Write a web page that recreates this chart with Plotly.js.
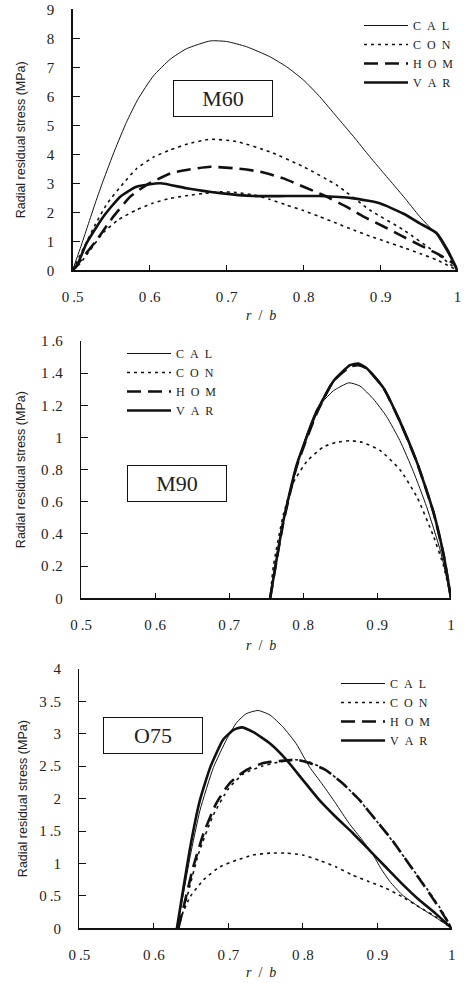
<!DOCTYPE html>
<html>
<head>
<meta charset="utf-8">
<script src="https://cdn.plot.ly/plotly-3.0.1.min.js"></script>
<style>html,body{margin:0;padding:0;background:#fff;}#chart{width:464px;height:983px;}</style>
</head>
<body>
<div id="chart"></div>
<script>
// ---------- shared ----------
const seriesNames = ['C\u2002A\u2002L', 'C\u2002O\u2002N', 'H\u2002O\u2002M', 'V\u2002A\u2002R'];
const panelLabels = ['M60', 'M90', 'O75'];
const xTitleText = '<i>r</i>\u00a0\u00a0/\u00a0\u00a0<i>b</i>';
const yTitleText = 'Radial residual stress (MPa)';
const xTickVals = [0.5, 0.6, 0.7, 0.8, 0.9, 1];
const xTickText = ['0\u2009.5', '0\u2009.6', '0\u2009.7', '0\u2009.8', '0\u2009.9', '1'];
const y1TickVals = [0, 1, 2, 3, 4, 5, 6, 7, 8, 9];
const y1TickText = ['0', '1', '2', '3', '4', '5', '6', '7', '8', '9'];
const y2TickVals = [0, 0.2, 0.4, 0.6, 0.8, 1, 1.2, 1.4, 1.6];
const y2TickText = ['0', '0\u2009.2', '0\u2009.4', '0\u2009.6', '0\u2009.8', '1', '1\u2009.2', '1\u2009.4', '1\u2009.6'];
const y3TickVals = [0, 0.5, 1, 1.5, 2, 2.5, 3, 3.5, 4];
const y3TickText = ['0', '0\u2009.5', '1', '1\u2009.5', '2', '2\u2009.5', '3', '3\u2009.5', '4'];

// ---------- M60 ----------
const m60CalX = [0.5, 0.51, 0.52, 0.53, 0.54, 0.555, 0.570, 0.585, 0.605, 0.627, 0.648, 0.679, 0.700, 0.726, 0.756, 0.778, 0.800, 0.821, 0.843, 0.865, 0.886, 0.908, 0.930, 0.951, 0.973, 0.986, 1.0];
const m60CalY = [0, 0.75, 1.55, 2.35, 3.1, 4.15, 5.1, 5.9, 6.7, 7.28, 7.64, 7.91, 7.89, 7.71, 7.37, 7.02, 6.56, 5.99, 5.30, 4.61, 3.92, 3.23, 2.54, 1.85, 1.22, 0.65, 0];
const m60ConUpX = [0.5, 0.515, 0.53, 0.545, 0.566, 0.583, 0.605, 0.627, 0.650, 0.679, 0.713, 0.756, 0.800, 0.843, 0.886, 0.930, 0.973, 1.0];
const m60ConUpY = [0, 0.8, 1.6, 2.3, 3.0, 3.5, 3.9, 4.15, 4.36, 4.52, 4.44, 4.09, 3.57, 2.94, 2.08, 1.39, 0.58, 0];
const m60ConLoX = [0.5, 0.51, 0.523, 0.540, 0.560, 0.583, 0.605, 0.627, 0.650, 0.670, 0.692, 0.713, 0.735, 0.756, 0.778, 0.800, 0.821, 0.843, 0.865, 0.886, 0.908, 0.930, 0.951, 0.973, 1.0];
const m60ConLoY = [0, 0.24, 0.70, 1.30, 1.75, 2.08, 2.32, 2.48, 2.58, 2.65, 2.71, 2.68, 2.60, 2.45, 2.25, 2.06, 1.85, 1.62, 1.39, 1.18, 0.98, 0.78, 0.58, 0.36, 0];
const m60HomX = [0.5, 0.514, 0.531, 0.553, 0.575, 0.596, 0.627, 0.648, 0.679, 0.713, 0.744, 0.774, 0.800, 0.826, 0.856, 0.878, 0.904, 0.925, 0.951, 0.973, 0.995, 1.0];
const m60HomY = [0, 0.46, 1.03, 1.85, 2.54, 2.94, 3.34, 3.46, 3.57, 3.51, 3.40, 3.17, 2.88, 2.59, 2.19, 1.85, 1.51, 1.22, 0.87, 0.58, 0.23, 0];
const m60VarX = [0.5, 0.505, 0.518, 0.540, 0.562, 0.583, 0.614, 0.648, 0.692, 0.735, 0.778, 0.821, 0.865, 0.899, 0.930, 0.951, 0.973, 0.987, 1.0];
const m60VarY = [0, 0.12, 0.92, 1.85, 2.54, 2.88, 3.00, 2.83, 2.66, 2.56, 2.56, 2.56, 2.48, 2.31, 1.95, 1.62, 1.28, 0.70, 0];

// ---------- M90 ----------
const m90CalX = [0.7556, 0.7734, 0.7915, 0.805, 0.819, 0.841, 0.862, 0.877, 0.895, 0.913, 0.931, 0.949, 0.967, 0.986, 1.0];
const m90CalY = [0, 0.47, 0.82, 1.02, 1.18, 1.29, 1.34, 1.32, 1.24, 1.13, 0.98, 0.79, 0.57, 0.29, 0];
const m90ConX = [0.7556, 0.760, 0.7734, 0.787, 0.805, 0.827, 0.845, 0.8635, 0.880, 0.904, 0.931, 0.954, 0.976, 0.990, 1.0];
const m90ConY = [0, 0.20, 0.52, 0.72, 0.85, 0.94, 0.97, 0.98, 0.97, 0.92, 0.80, 0.63, 0.39, 0.20, 0];
const m90HomX = [0.7556, 0.7734, 0.7915, 0.8185, 0.841, 0.8635, 0.875, 0.886, 0.9085, 0.931, 0.9536, 0.976, 0.990, 1.0];
const m90HomY = [0, 0.47, 0.82, 1.15, 1.35, 1.44, 1.45, 1.43, 1.31, 1.10, 0.85, 0.54, 0.27, 0];
const m90VarX = [0.7556, 0.7734, 0.7915, 0.8185, 0.841, 0.8635, 0.875, 0.886, 0.9085, 0.931, 0.9536, 0.976, 0.990, 1.0];
const m90VarY = [0, 0.48, 0.83, 1.16, 1.35, 1.45, 1.46, 1.43, 1.31, 1.10, 0.85, 0.54, 0.27, 0];

// ---------- O75 ----------
const o75CalX = [0.631, 0.640, 0.649, 0.662, 0.680, 0.698, 0.711, 0.724, 0.740, 0.756, 0.773, 0.791, 0.809, 0.827, 0.844, 0.862, 0.880, 0.893, 0.905, 0.917, 0.933, 0.956, 0.978, 1.0];
const o75CalY = [0, 0.55, 1.12, 1.82, 2.48, 2.92, 3.17, 3.31, 3.36, 3.29, 3.11, 2.85, 2.49, 2.21, 1.93, 1.62, 1.36, 1.16, 0.92, 0.72, 0.52, 0.33, 0.17, 0];
const o75ConUpX = [0.633, 0.645, 0.660, 0.680, 0.700, 0.720, 0.745, 0.770, 0.790, 0.810, 0.830, 0.855, 0.878, 0.900, 0.922, 0.944, 0.966, 0.984, 1.0];
const o75ConUpY = [0, 0.50, 1.15, 1.75, 2.15, 2.38, 2.50, 2.57, 2.60, 2.56, 2.45, 2.22, 1.95, 1.64, 1.32, 0.97, 0.62, 0.32, 0];
const o75ConLoX = [0.631, 0.635, 0.649, 0.667, 0.689, 0.711, 0.733, 0.756, 0.778, 0.800, 0.822, 0.844, 0.867, 0.889, 0.911, 0.933, 0.956, 0.978, 1.0];
const o75ConLoY = [0, 0.13, 0.49, 0.75, 0.95, 1.05, 1.13, 1.16, 1.16, 1.13, 1.05, 0.95, 0.82, 0.72, 0.62, 0.49, 0.33, 0.18, 0];
const o75HomX = [0.633, 0.640, 0.653, 0.667, 0.684, 0.702, 0.724, 0.747, 0.769, 0.791, 0.809, 0.831, 0.853, 0.876, 0.898, 0.920, 0.942, 0.964, 0.982, 1.0];
const o75HomY = [0, 0.33, 0.95, 1.47, 1.93, 2.24, 2.44, 2.55, 2.58, 2.60, 2.55, 2.44, 2.24, 1.98, 1.67, 1.36, 1.00, 0.64, 0.33, 0];
const o75VarX = [0.631, 0.640, 0.649, 0.662, 0.676, 0.693, 0.707, 0.718, 0.733, 0.756, 0.778, 0.800, 0.822, 0.844, 0.867, 0.889, 0.911, 0.933, 0.956, 0.978, 1.0];
const o75VarY = [0, 0.64, 1.26, 1.98, 2.49, 2.91, 3.06, 3.10, 3.03, 2.85, 2.60, 2.29, 1.98, 1.72, 1.47, 1.21, 0.95, 0.69, 0.44, 0.23, 0];

// ---------- styles ----------
const INK = '#111';
const calLine = {color: INK, width: 1, shape: 'spline', smoothing: 0.5};
const conLine = {color: INK, width: 1.6, dash: '3px,4px', shape: 'spline', smoothing: 0.5};
const homLine = {color: INK, width: 2.6, dash: '14px,7px', shape: 'spline', smoothing: 0.5};
const varLine = {color: INK, width: 2.6, shape: 'spline', smoothing: 0.5};

function tr(x, y, name, line, xa, ya, leg, show) {
  return {x: x, y: y, name: name, type: 'scatter', mode: 'lines', line: line,
          xaxis: xa, yaxis: ya, legend: leg, showlegend: show, hoverinfo: 'skip'};
}

const data = [
  tr(m60CalX, m60CalY, seriesNames[0], calLine, 'x', 'y', 'legend', true),
  tr(m60ConUpX, m60ConUpY, seriesNames[1], conLine, 'x', 'y', 'legend', true),
  tr(m60HomX, m60HomY, seriesNames[2], homLine, 'x', 'y', 'legend', true),
  tr(m60VarX, m60VarY, seriesNames[3], varLine, 'x', 'y', 'legend', true),
  tr(m60ConLoX, m60ConLoY, seriesNames[1], conLine, 'x', 'y', 'legend', false),

  tr(m90CalX, m90CalY, seriesNames[0], calLine, 'x2', 'y2', 'legend2', true),
  tr(m90ConX, m90ConY, seriesNames[1], conLine, 'x2', 'y2', 'legend2', true),
  tr(m90HomX, m90HomY, seriesNames[2], homLine, 'x2', 'y2', 'legend2', true),
  tr(m90VarX, m90VarY, seriesNames[3], varLine, 'x2', 'y2', 'legend2', true),

  tr(o75CalX, o75CalY, seriesNames[0], calLine, 'x3', 'y3', 'legend3', true),
  tr(o75ConUpX, o75ConUpY, seriesNames[1], conLine, 'x3', 'y3', 'legend3', true),
  tr(o75HomX, o75HomY, seriesNames[2], homLine, 'x3', 'y3', 'legend3', true),
  tr(o75VarX, o75VarY, seriesNames[3], varLine, 'x3', 'y3', 'legend3', true),
  tr(o75ConLoX, o75ConLoY, seriesNames[1], conLine, 'x3', 'y3', 'legend3', false)
];

const W = 464, H = 983;
const tickFont = {family: '"Liberation Serif", "Times New Roman", serif', size: 15, color: '#222'};
const yTitleFont = {family: '"Liberation Sans", Arial, sans-serif', size: 12.5, color: '#222'};
const xTitleFont = {family: '"Liberation Serif", "Times New Roman", serif', size: 14, color: '#222'};

function xAxis(d0, d1, anchor) {
  return {domain: [d0 / W, d1 / W], anchor: anchor, range: [0.5, 1], showgrid: false, zeroline: false,
    showline: true, linecolor: INK, linewidth: 1.3, ticks: 'inside', ticklen: 5, tickwidth: 1, tickcolor: INK,
    tickmode: 'array', tickvals: xTickVals, ticktext: xTickText, tickfont: tickFont, ticklabelstandoff: 12,
    automargin: false, fixedrange: true};
}
function yAxis(top, bottom, anchor, rng, tv, tt, standoff) {
  return {domain: [1 - bottom / H, 1 - top / H], anchor: anchor, range: rng, showgrid: false, zeroline: false,
    showline: true, linecolor: INK, linewidth: 1.3, ticks: 'inside', ticklen: 7, tickwidth: 1, tickcolor: INK,
    tickmode: 'array', tickvals: tv, ticktext: tt, tickfont: tickFont, ticklabelstandoff: 14,
    title: {text: yTitleText, font: yTitleFont, standoff: standoff}, automargin: false, fixedrange: true};
}

const legendFont = {family: '"Liberation Serif", "Times New Roman", serif', size: 12, color: '#222'};
function legendAt(xpx, ypx) {
  return {x: xpx / W, y: 1 - ypx / H, xanchor: 'left', yanchor: 'top', bgcolor: 'rgba(0,0,0,0)',
    borderwidth: 0, font: legendFont, traceorder: 'normal', itemwidth: 44, itemclick: false, itemdoubleclick: false};
}

function boxNote(text, x, y, xr, yr) {
  return {text: text, x: x, y: y, xref: xr, yref: yr, showarrow: false, xanchor: 'center', yanchor: 'middle',
    width: 98, height: 35, borderpad: 0, bordercolor: INK, borderwidth: 1, bgcolor: '#fff',
    font: {family: '"Liberation Serif", "Times New Roman", serif', size: 22, color: '#222'}};
}
function xTitleNote(cx, cy) {
  return {text: xTitleText, x: cx / W, y: 1 - cy / H, xref: 'paper', yref: 'paper', showarrow: false,
    xanchor: 'center', yanchor: 'middle', font: xTitleFont};
}

const layout = {
  width: W, height: H, margin: {l: 0, r: 0, t: 0, b: 0},
  paper_bgcolor: '#fff', plot_bgcolor: '#fff', showlegend: true,
  xaxis: xAxis(72.5, 457.5, 'y'),
  yaxis: yAxis(9.3, 270.3, 'x', [0, 9], y1TickVals, y1TickText, 18),
  xaxis2: xAxis(81, 451, 'y2'),
  yaxis2: yAxis(341, 598.3, 'x2', [0, 1.6], y2TickVals, y2TickText, 12),
  xaxis3: xAxis(79.3, 451.8, 'y3'),
  yaxis3: yAxis(669, 928.3, 'x3', [0, 4], y3TickVals, y3TickText, 9),
  legend: legendAt(359, 11),
  legend2: legendAt(122, 339),
  legend3: legendAt(336, 669),
  annotations: [
    boxNote(panelLabels[0], 0.6955, 5.93, 'x', 'y'),
    boxNote(panelLabels[1], 0.630, 0.717, 'x2', 'y2'),
    boxNote(panelLabels[2], 0.599, 2.97, 'x3', 'y3'),
    xTitleNote(261, 315),
    xTitleNote(261, 645),
    xTitleNote(261, 972)
  ]
};

Plotly.newPlot('chart', data, layout, {staticPlot: true, displayModeBar: false});
</script>
</body>
</html>
